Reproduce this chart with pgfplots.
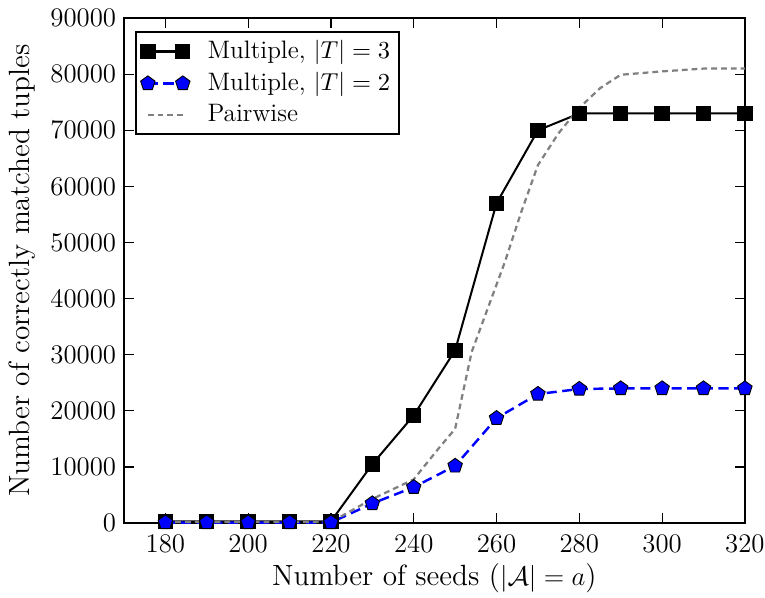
\documentclass[border=0pt]{standalone}
\usepackage{pgfplots}
\pgfplotsset{compat=1.18}
\begin{document}
\begin{tikzpicture}
\begin{axis}[
  scale only axis,
  width=278pt, height=226.1pt,
  xmin=170, xmax=320, ymin=0, ymax=90000,
  xtick={180,200,...,320},
  ytick={0,10000,...,90000},
  scaled y ticks=false,
  yticklabel style={/pgf/number format/1000 sep={}},
  xticklabel style={/pgf/number format/1000 sep={}, yshift=-1.8pt},
  tick align=inside,
  major tick length=4.4pt,
  tick style={black, line width=0.5pt},
  axis line style={line width=0.7pt},
  ticklabel style={font=\fontsize{12.5}{14}\selectfont},
  label style={font=\fontsize{13.1}{16}\selectfont},
  xlabel style={yshift=2pt},
  xlabel={Number of seeds ($|\mathcal{A}|=a$)},
  ylabel={Number of correctly matched tuples},
  legend cell align=left,
  legend style={draw=black, line width=0.9pt, font=\fontsize{11.3}{13.5}\selectfont, row sep=0.6pt, inner xsep=2pt, inner ysep=2pt, at={(0.018,0.975)}, anchor=north west, nodes={inner xsep=2pt, inner ysep=2pt}},
  legend image code/.code={\draw[#1] plot coordinates {(0cm,0cm) (0.55cm,0cm)}; \path (0.85cm,0);},
]
\addplot[black, line width=0.9pt, mark=square*, mark size=3pt, mark options={solid}] coordinates {
(180,300) (190,300) (200,300) (210,300) (220,300) (230,10500) (240,19200) (250,30800) (260,57000) (270,70000) (280,73000) (290,73000) (300,73000) (310,73000) (320,73000)};
\addlegendentry{Multiple, $|T|=3$}
\addplot[blue, line width=1.1pt, dash pattern=on 4.5pt off 2.5pt, mark=pentagon*, mark size=3.4pt, mark options={solid, fill=blue, draw=black, line width=0.4pt}] coordinates {
(180,100) (190,100) (200,100) (210,100) (220,100) (230,3500) (240,6400) (250,10200) (260,18700) (270,23000) (280,23900) (290,24000) (300,24000) (310,24000) (320,24000)};
\addlegendentry{Multiple, $|T|=2$}
\addplot[gray, line width=1pt, dash pattern=on 2.6pt off 1.8pt] coordinates {
(180,200) (190,200) (200,200) (210,200) (220,200) (230,4300) (240,7800) (246,13300) (250,16800) (254,30500) (258,38500) (262,46500) (266,55500) (270,63800) (275,69500) (280,74000) (285,77500) (290,79900) (300,80500) (310,81000) (320,81000)};
\addlegendentry{Pairwise}
\end{axis}
\pgfresetboundingbox
\path ([xshift=-55.5pt,yshift=-33.1pt]current axis.south west) rectangle ([xshift=9pt,yshift=8.1pt]current axis.north east);
\end{tikzpicture}
\end{document}
